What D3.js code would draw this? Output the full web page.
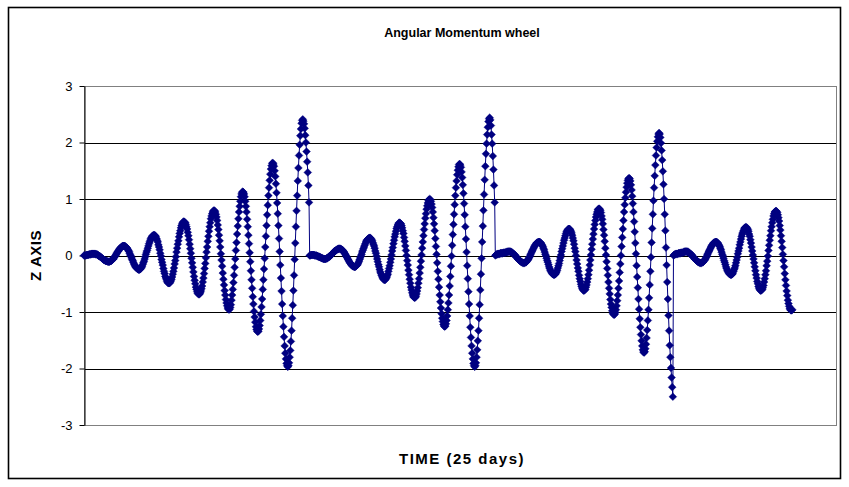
<!DOCTYPE html>
<html>
<head>
<meta charset="utf-8">
<script src="https://cdn.jsdelivr.net/npm/d3@7"></script>
<style>
  body { margin: 0; background: #fff; }
  svg { display: block; font-family: Arial, "Liberation Sans", sans-serif; }
</style>
</head>
<body>
<svg width="849" height="487"></svg>
<script>
const chartTitle = 'Angular Momentum wheel';
const xTitle = 'TIME (25 days)';
const yTitle = 'Z AXIS';
const yTicks = [-3, -2, -1, 0, 1, 2, 3];
const timeSlots = 1203; // category axis runs a bit past the last reading

// wheel momentum
const run1 = [
  0.00,0.00,0.00,0.00,0.01,0.01,0.01,0.01,0.02,0.02,0.02,0.02,0.03,0.03,0.03,0.03,0.03,
  0.03,0.03,0.02,0.02,0.02,0.01,0.00,-0.01,-0.01,-0.02,-0.03,-0.04,-0.05,-0.06,-0.07,-0.08,-0.08,-0.09,-0.10,-0.10,-0.10,-0.11,-0.11,-0.11,
  -0.11,-0.10,-0.10,-0.09,-0.08,-0.07,-0.06,-0.04,-0.02,-0.01,0.01,0.03,0.05,0.07,0.08,0.10,0.12,0.13,0.14,0.15,0.16,0.17,0.17,0.17,
  0.17,0.16,0.15,0.14,0.13,0.11,0.09,0.07,0.04,0.01,-0.01,-0.04,-0.07,-0.09,-0.12,-0.15,-0.17,-0.19,-0.21,-0.22,-0.23,-0.24,-0.25,-0.25,
  -0.25,-0.24,-0.23,-0.21,-0.19,-0.16,-0.13,-0.10,-0.06,-0.02,0.02,0.06,0.09,0.13,0.17,0.21,0.24,0.27,0.30,0.32,0.34,0.35,0.36,0.36,
  0.36,0.35,0.33,0.30,0.27,0.24,0.19,0.15,0.10,0.04,-0.01,-0.07,-0.12,-0.17,-0.23,-0.28,-0.32,-0.37,-0.40,-0.43,-0.46,-0.48,-0.49,-0.49,
  -0.49,-0.47,-0.45,-0.42,-0.38,-0.33,-0.28,-0.22,-0.15,-0.09,-0.02,0.06,0.13,0.20,0.26,0.33,0.39,0.44,0.49,0.53,0.56,0.58,0.60,0.60,
  0.59,0.58,0.55,0.51,0.47,0.41,0.35,0.28,0.20,0.12,0.04,-0.05,-0.13,-0.21,-0.29,-0.37,-0.44,-0.50,-0.56,-0.60,-0.64,-0.67,-0.68,-0.69,
  -0.68,-0.66,-0.63,-0.59,-0.54,-0.47,-0.40,-0.32,-0.23,-0.14,-0.04,0.06,0.15,0.25,0.34,0.43,0.51,0.58,0.65,0.70,0.74,0.77,0.79,0.80,
  0.79,0.77,0.73,0.68,0.62,0.54,0.46,0.36,0.26,0.15,0.03,-0.08,-0.19,-0.31,-0.42,-0.52,-0.62,-0.70,-0.78,-0.84,-0.89,-0.93,-0.95,-0.96,
  -0.95,-0.92,-0.87,-0.79,-0.70,-0.60,-0.48,-0.35,-0.21,-0.06,0.09,0.23,0.38,0.52,0.65,0.77,0.87,0.96,1.04,1.09,1.12,1.13,
  1.12,1.09,1.04,0.96,0.87,0.77,0.64,0.51,0.36,0.21,0.05,-0.11,-0.27,-0.43,-0.58,-0.73,-0.86,-0.99,-1.09,-1.18,-1.26,-1.31,-1.34,-1.35,
  -1.34,-1.30,-1.24,-1.15,-1.04,-0.91,-0.77,-0.60,-0.43,-0.24,-0.05,0.15,0.34,0.53,0.72,0.89,1.06,1.20,1.33,1.44,1.53,1.59,1.63,1.64,
  1.62,1.58,1.50,1.40,1.27,1.11,0.93,0.74,0.53,0.30,0.07,-0.17,-0.40,-0.63,-0.86,-1.07,-1.26,-1.44,-1.60,-1.73,-1.83,-1.91,-1.95,-1.97,
  -1.95,-1.90,-1.80,-1.68,-1.52,-1.33,-1.11,-0.88,-0.62,-0.35,-0.07,0.22,0.51,0.79,1.06,1.32,1.55,1.77,1.96,2.12,2.24,2.34,2.39,2.41,
  2.38,2.33,2.25,2.13,2.00,1.84,1.66,1.47,1.24,0.94
];
const run2 = [
  0.00,0.00,0.01,0.01,0.01,0.01,0.01,0.01,0.00,0.00,0.00,0.00,-0.01,-0.01,-0.02,-0.02,-0.03,-0.03,-0.04,-0.04,-0.05,-0.05,-0.06,-0.06,-0.06,
  -0.06,-0.06,-0.05,-0.05,-0.04,-0.03,-0.02,-0.02,0.00,0.01,0.02,0.03,0.04,0.05,0.06,0.08,0.08,0.09,0.10,0.11,0.11,0.12,0.12,0.12,
  0.12,0.11,0.11,0.10,0.09,0.07,0.06,0.04,0.02,0.00,-0.02,-0.04,-0.06,-0.08,-0.10,-0.12,-0.14,-0.15,-0.17,-0.18,-0.19,-0.19,-0.20,-0.20,
  -0.20,-0.19,-0.18,-0.17,-0.15,-0.13,-0.10,-0.07,-0.04,-0.01,0.02,0.06,0.09,0.12,0.15,0.18,0.21,0.24,0.26,0.28,0.29,0.30,0.31,0.31,
  0.31,0.30,0.28,0.26,0.23,0.20,0.17,0.13,0.08,0.04,-0.01,-0.06,-0.11,-0.16,-0.20,-0.25,-0.29,-0.32,-0.35,-0.38,-0.40,-0.42,-0.43,-0.43,
  -0.43,-0.41,-0.39,-0.36,-0.33,-0.28,-0.23,-0.18,-0.12,-0.06,0.01,0.08,0.14,0.21,0.27,0.33,0.38,0.43,0.48,0.51,0.54,0.56,0.58,0.58,
  0.57,0.56,0.53,0.49,0.44,0.39,0.32,0.25,0.17,0.09,0.00,-0.09,-0.17,-0.26,-0.34,-0.42,-0.49,-0.56,-0.61,-0.66,-0.70,-0.73,-0.74,-0.75,
  -0.74,-0.72,-0.68,-0.63,-0.57,-0.49,-0.41,-0.31,-0.21,-0.10,0.01,0.13,0.24,0.35,0.46,0.56,0.66,0.74,0.82,0.88,0.93,0.97,0.99,1.00,
  0.99,0.96,0.91,0.85,0.77,0.67,0.56,0.44,0.30,0.16,0.02,-0.13,-0.28,-0.42,-0.56,-0.70,-0.82,-0.93,-1.03,-1.11,-1.17,-1.22,-1.25,-1.26,
  -1.25,-1.21,-1.15,-1.07,-0.96,-0.84,-0.70,-0.54,-0.37,-0.19,-0.01,0.18,0.37,0.55,0.73,0.90,1.06,1.20,1.32,1.43,1.51,1.57,1.61,1.62,
  1.60,1.56,1.48,1.38,1.25,1.10,0.92,0.72,0.51,0.29,0.06,-0.18,-0.41,-0.64,-0.86,-1.07,-1.27,-1.45,-1.60,-1.73,-1.83,-1.91,-1.95,-1.97,
  -1.95,-1.90,-1.80,-1.67,-1.51,-1.33,-1.11,-0.87,-0.61,-0.33,-0.05,0.24,0.52,0.80,1.08,1.34,1.58,1.80,1.98,2.14,2.27,2.37,2.42,2.44,
  2.40,2.30,2.14,1.98,1.76,1.52,1.24,0.94
];
const run3 = [
  0.00,0.01,0.02,0.02,0.03,0.03,0.03,0.03,0.04,0.04,0.04,0.04,0.04,0.05,0.05,0.05,0.05,0.06,0.06,0.06,0.07,0.07,0.07,
  0.07,0.07,0.06,0.06,0.05,0.04,0.03,0.02,0.01,0.00,-0.02,-0.03,-0.04,-0.06,-0.07,-0.08,-0.09,-0.10,-0.11,-0.12,-0.12,-0.13,-0.13,-0.13,
  -0.13,-0.12,-0.12,-0.11,-0.09,-0.08,-0.06,-0.04,-0.02,0.01,0.03,0.06,0.08,0.10,0.13,0.15,0.17,0.19,0.20,0.22,0.23,0.23,0.24,0.24,
  0.24,0.23,0.22,0.20,0.18,0.16,0.13,0.10,0.06,0.02,-0.01,-0.05,-0.09,-0.12,-0.16,-0.20,-0.23,-0.26,-0.28,-0.30,-0.32,-0.33,-0.34,-0.34,
  -0.34,-0.33,-0.31,-0.29,-0.26,-0.22,-0.18,-0.14,-0.09,-0.04,0.01,0.07,0.12,0.17,0.22,0.27,0.31,0.35,0.39,0.42,0.44,0.46,0.47,0.47,
  0.47,0.45,0.43,0.40,0.36,0.31,0.26,0.20,0.13,0.07,0.00,-0.08,-0.15,-0.22,-0.28,-0.35,-0.41,-0.46,-0.51,-0.55,-0.58,-0.60,-0.62,-0.62,
  -0.61,-0.60,-0.56,-0.52,-0.47,-0.41,-0.34,-0.26,-0.17,-0.08,0.01,0.11,0.20,0.29,0.38,0.47,0.55,0.62,0.68,0.73,0.77,0.81,0.82,0.83,
  0.82,0.80,0.76,0.70,0.64,0.56,0.46,0.36,0.25,0.13,0.01,-0.11,-0.23,-0.35,-0.47,-0.58,-0.68,-0.78,-0.86,-0.92,-0.98,-1.02,-1.04,-1.05,
  -1.04,-1.01,-0.96,-0.89,-0.80,-0.70,-0.58,-0.45,-0.30,-0.15,0.00,0.16,0.32,0.47,0.62,0.77,0.90,1.02,1.12,1.21,1.28,1.33,1.36,1.37,
  1.36,1.32,1.25,1.16,1.05,0.92,0.77,0.60,0.42,0.22,0.03,-0.18,-0.38,-0.57,-0.77,-0.95,-1.12,-1.27,-1.40,-1.51,-1.60,-1.67,-1.71,-1.72,
  -1.70,-1.65,-1.57,-1.46,-1.32,-1.15,-0.96,-0.75,-0.52,-0.28,-0.03,0.23,0.48,0.73,0.97,1.20,1.41,1.60,1.77,1.91,2.02,2.10,2.15,2.17,
  2.15,2.09,1.99,1.86,1.69,1.49,1.26,1.00,0.73,0.44,0.14,-0.17,-0.47,-0.77,-1.06,-1.33,-1.59,-1.80,-1.99,-2.16,-2.33,-2.50
];
const run4 = [
  0.00,0.01,0.02,0.02,0.03,0.03,0.03,0.03,0.04,0.04,0.04,0.04,0.05,0.05,0.05,0.05,0.06,0.06,0.07,0.07,0.07,
  0.07,0.07,0.06,0.06,0.05,0.04,0.03,0.02,0.01,0.00,-0.02,-0.03,-0.04,-0.06,-0.07,-0.08,-0.09,-0.10,-0.11,-0.12,-0.12,-0.13,-0.13,-0.13,
  -0.13,-0.12,-0.12,-0.11,-0.09,-0.08,-0.06,-0.04,-0.02,0.01,0.03,0.06,0.08,0.10,0.13,0.15,0.17,0.19,0.20,0.22,0.23,0.23,0.24,0.24,
  0.24,0.23,0.22,0.20,0.18,0.16,0.13,0.10,0.06,0.02,-0.01,-0.05,-0.09,-0.12,-0.16,-0.20,-0.23,-0.26,-0.28,-0.30,-0.32,-0.33,-0.34,-0.34,
  -0.34,-0.33,-0.31,-0.28,-0.25,-0.22,-0.18,-0.13,-0.08,-0.03,0.03,0.08,0.13,0.19,0.24,0.29,0.34,0.38,0.41,0.44,0.47,0.49,0.50,0.50,
  0.50,0.48,0.46,0.43,0.38,0.34,0.28,0.22,0.15,0.08,0.01,-0.06,-0.13,-0.20,-0.27,-0.34,-0.40,-0.46,-0.50,-0.55,-0.58,-0.60,-0.62,-0.62,
  -0.61,-0.60,-0.57,-0.53,-0.47,-0.41,-0.34,-0.27,-0.18,-0.10,-0.01,0.09,0.18,0.27,0.35,0.44,0.51,0.58,0.64,0.70,0.74,0.77,0.78,0.79,
  0.78,0.76,0.72,0.67,0.61,0.53,0.45,0.35,0.25,0.14,0.02,-0.09,-0.20,-0.32,-0.43,-0.53,-0.63,-0.71,-0.79,-0.85,-0.90,-0.94,-0.96,-0.97,
  -0.97,-0.96
];
const zValues = run1.concat(run2, run3, run4);

const svg = d3.select('svg');
const plot = { left: 84, right: 836, top: 86, bottom: 425 };

// chart area frame
svg.append('rect')
  .attr('x', 8.5).attr('y', 7.5)
  .attr('width', 832).attr('height', 471)
  .attr('fill', '#fff')
  .attr('stroke', '#000')
  .attr('stroke-width', 1.6);

const x = d3.scaleLinear()
  .domain([0, timeSlots])
  .range([plot.left, plot.right]);

const y = d3.scaleLinear()
  .domain([-3, 3])
  .range([plot.bottom, plot.top]);

// gridlines
svg.append('g')
  .selectAll('line')
  .data(yTicks.filter(d => d > -3 && d < 3))
  .join('line')
  .attr('x1', plot.left).attr('x2', plot.right)
  .attr('y1', d => Math.round(y(d)) + 0.5)
  .attr('y2', d => Math.round(y(d)) + 0.5)
  .attr('stroke', '#000')
  .attr('stroke-width', 1);

// plot area border
svg.append('rect')
  .attr('x', plot.left + 0.5).attr('y', Math.round(y(3)) + 0.5)
  .attr('width', plot.right - plot.left)
  .attr('height', Math.round(y(-3)) - Math.round(y(3)))
  .attr('fill', 'none')
  .attr('stroke', '#808080')
  .attr('stroke-width', 1);

// value axis
const yAxis = svg.append('g')
  .attr('transform', `translate(${plot.left + 0.5},0)`)
  .call(d3.axisLeft(y)
    .tickValues(yTicks)
    .tickFormat(d => String(d))
    .tickSize(5)
    .tickPadding(7)
    .tickSizeOuter(0));
yAxis.select('.domain').attr('stroke', '#000');
yAxis.selectAll('.tick line').attr('stroke', '#000');
yAxis.selectAll('.tick text')
  .attr('font-size', 13)
  .attr('font-family', 'Arial, "Liberation Sans", sans-serif')
  .attr('fill', '#000');

// series line
const line = d3.line()
  .x((d, i) => x(i))
  .y(d => y(d));

svg.append('path')
  .datum(zValues)
  .attr('d', line)
  .attr('fill', 'none')
  .attr('stroke', '#000080')
  .attr('stroke-width', 1);

// diamond markers
const diamond = d3.symbol(d3.symbolSquare, 30);
svg.append('g')
  .selectAll('path')
  .data(zValues)
  .join('path')
  .attr('d', diamond)
  .attr('transform', (d, i) => `translate(${x(i)},${y(d)}) rotate(45)`)
  .attr('fill', '#000080')
  .attr('stroke', '#000080')
  .attr('stroke-width', 0.4);

// titles
const midX = (plot.left + plot.right) / 2;
svg.append('text')
  .attr('x', midX + 2).attr('y', 37)
  .attr('text-anchor', 'middle')
  .attr('font-size', 12.5).attr('font-weight', 'bold')
  .text(chartTitle);

svg.append('text')
  .attr('x', midX + 2).attr('y', 464)
  .attr('text-anchor', 'middle')
  .attr('font-size', 15).attr('font-weight', 'bold')
  .attr('letter-spacing', 1.5)
  .text(xTitle);

svg.append('text')
  .attr('transform', `translate(41,${(plot.top + plot.bottom) / 2}) rotate(-90)`)
  .attr('text-anchor', 'middle')
  .attr('font-size', 15).attr('font-weight', 'bold')
  .attr('letter-spacing', 0.5)
  .text(yTitle);
</script>
</body>
</html>
